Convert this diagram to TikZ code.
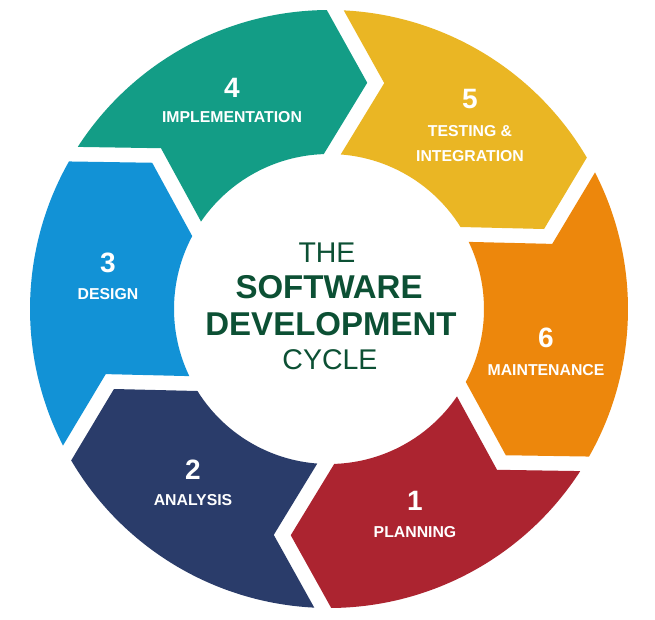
\documentclass[tikz,border=0pt]{standalone}
\usepackage{fontspec}
\setmainfont{Liberation Sans}
\usetikzlibrary{calc}
\definecolor{c1}{RGB}{172,36,48}
\definecolor{c2}{RGB}{42,60,106}
\definecolor{c3}{RGB}{18,146,214}
\definecolor{c4}{RGB}{19,157,134}
\definecolor{c5}{RGB}{234,182,36}
\definecolor{c6}{RGB}{237,135,12}
\definecolor{txt}{RGB}{12,80,52}
\begin{document}
\begin{tikzpicture}[x=1pt,y=1pt,
  num/.style={anchor=base,inner sep=0pt,text=white,font=\fontsize{28}{28}\selectfont\bfseries},
  lab/.style={anchor=base,inner sep=0pt,text=white,font=\fontsize{15.8}{15.8}\selectfont\bfseries},
  ttl/.style={anchor=base,inner sep=0pt,text=txt,font=\fontsize{28.5}{28.5}\selectfont},
  ttlb/.style={anchor=base,inner sep=0pt,text=txt,font=\fontsize{33}{33}\selectfont\bfseries}]
\useasboundingbox[fill=white] (-329,-310) rectangle (326,309);
\def\Ro{299}\def\Ri{155}\def\Rm{227}\def\dep{42}\def\hg{8.5}
\pgfmathsetmacro\dO{asin(\hg/\Ro)}
\pgfmathsetmacro\dI{asin(\hg/\Ri)}
\pgfmathsetmacro\dpl{\dep+\hg}
\pgfmathsetmacro\dmi{\dep-\hg}
\foreach \a/\col in {-31.2/c1,-91.2/c2,-151.2/c3,148.8/c4,88.8/c5,28.8/c6}{
  \pgfmathsetmacro\b{\a-60}
  \pgfmathsetmacro\sa{\a-\dI}
  \pgfmathsetmacro\ea{\b+\dI}
  \pgfmathsetmacro\so{\a-\dO}
  \pgfmathsetmacro\eo{\b+\dO}
  \pgfmathsetmacro\ta{\a-90}
  \pgfmathsetmacro\tb{\b-90}
  \fill[\col] (\so:\Ro) -- ($(\a:\Rm)+(\ta:\dpl)$) -- (\sa:\Ri)
    arc[start angle=\sa,end angle=\ea,radius=\Ri]
    -- ($(\b:\Rm)+(\tb:\dmi)$) -- (\eo:\Ro)
    arc[start angle=\eo,end angle=\so,radius=\Ro] -- cycle;
}
% labels
\node[num] (n4) at (-97,212) {4};
\node[lab] (l4) at (-97,186.5) {IMPLEMENTATION};
\node[num] (n5) at (141,201) {5};
\node[lab] (l5a) at (141,172.3) {TESTING \&};
\node[lab] (l5b) at (141,147.3) {INTEGRATION};
\node[num] (n3) at (-221,37) {3};
\node[lab] (l3) at (-221,9.5) {DESIGN};
\node[num] (n6) at (217,-38) {6};
\node[lab] (l6) at (217,-66.5) {MAINTENANCE};
\node[num] (n2) at (-136,-170) {2};
\node[lab] (l2) at (-136,-196.5) {ANALYSIS};
\node[num] (n1) at (86,-201) {1};
\node[lab] (l1) at (86,-228.5) {PLANNING};
% centre title
\node[ttl] (t1) at (-2,47) {THE};
\node[ttlb] (t2) at (0,10.7) {SOFTWARE};
\node[ttlb] (t3) at (2,-26) {DEVELOPMENT};
\node[ttl] (t4) at (1,-60) {CYCLE};
\end{tikzpicture}
\end{document}
